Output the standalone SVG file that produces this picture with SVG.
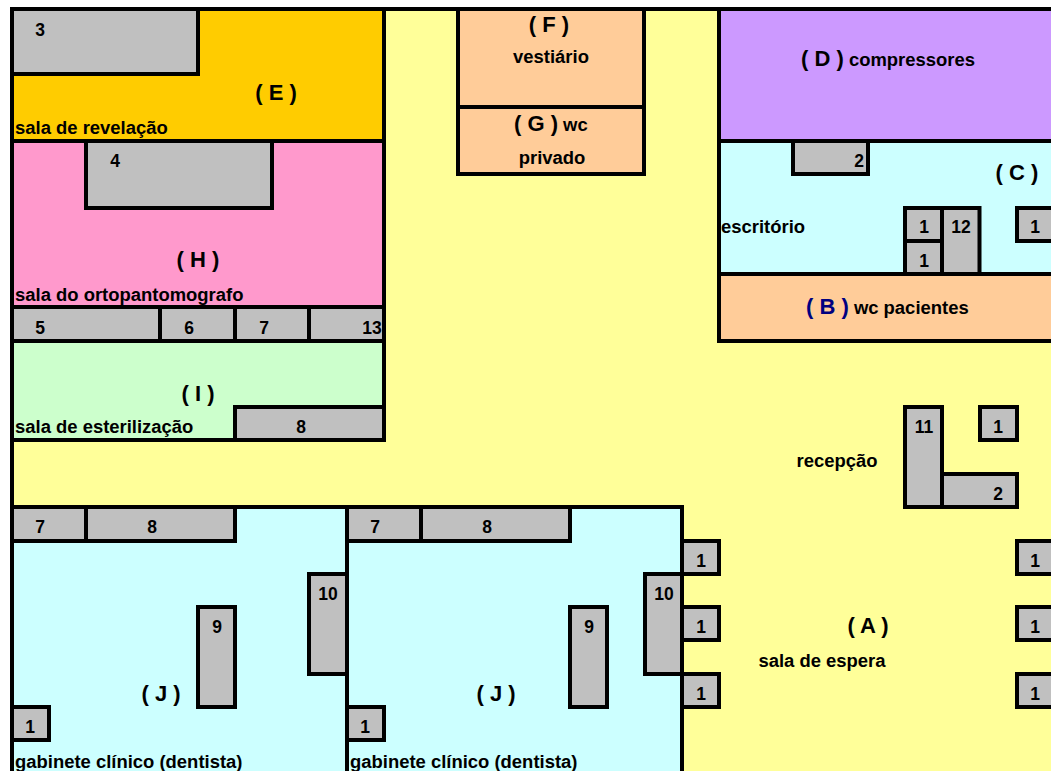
<svg xmlns="http://www.w3.org/2000/svg" width="1051" height="771" viewBox="0 0 1051 771">
<style>
rect{stroke:#000;stroke-width:4}
.y{fill:#FFFF99}.e{fill:#FFCC00}.h{fill:#FF99CC}.i{fill:#CCFFCC}.c{fill:#CCFFFF}.f{fill:#FFCC99}.d{fill:#CC99FF}.g{fill:#C0C0C0}
text{font-family:"Liberation Sans",Arial,sans-serif;font-weight:700;fill:#000;font-size:18.45px}
.n{text-anchor:middle}
.b{font-size:22px}
.m{font-size:17.5px}
</style>
<rect width="1051" height="771" fill="#fff" style="stroke:none"/>
<g id="floor"><rect class="y" x="12" y="9" width="1045" height="770"/></g>
<g id="room-E"><rect class="e" x="12" y="9" width="372" height="132"/><text x="15" y="134">sala de revelação</text><text class="b n" x="276" y="100">( E )</text></g>
<g id="item-3"><rect class="g" x="12" y="9" width="186" height="65"/><text class="m n" x="40" y="36">3</text></g>
<g id="room-H"><rect class="h" x="12" y="141" width="372" height="166"/><text x="15" y="301">sala do ortopantomografo</text><text class="b n" x="198" y="267">( H )</text></g>
<g id="item-4"><rect class="g" x="86" y="141" width="186" height="67"/><text class="m n" x="115" y="167">4</text></g>
<g id="item-5"><rect class="g" x="12" y="307" width="148" height="34"/><text class="m n" x="40" y="334">5</text></g>
<g id="item-6"><rect class="g" x="160" y="307" width="75" height="34"/><text class="m n" x="189" y="334">6</text></g>
<g id="item-7a"><rect class="g" x="235" y="307" width="74" height="34"/><text class="m n" x="264" y="334">7</text></g>
<g id="item-13"><rect class="g" x="309" y="307" width="75" height="34"/><text class="m n" x="372" y="334">13</text></g>
<g id="room-I"><rect class="i" x="12" y="341" width="372" height="99"/><text x="15" y="433">sala de esterilização</text><text class="b n" x="198" y="401">( I )</text></g>
<g id="item-8a"><rect class="g" x="235" y="407" width="149" height="33"/><text class="m n" x="301" y="433">8</text></g>
<g id="room-F"><rect class="f" x="458" y="9" width="186" height="98"/><text class="b n" x="549" y="32">( F )</text><text class="n" x="551" y="63">vestiário</text></g>
<g id="room-G"><rect class="f" x="458" y="107" width="186" height="67"/><text x="514" y="131"><tspan class="b">( G )</tspan> wc</text><text class="n" x="552" y="164">privado</text></g>
<g id="room-D"><rect class="d" x="719" y="9" width="340" height="132"/><text x="801" y="66"><tspan class="b">( D )</tspan> compressores</text></g>
<g id="room-C"><rect class="c" x="719" y="141" width="340" height="133"/><text x="721" y="233">escritório</text><text class="b n" x="1017" y="180">( C )</text></g>
<g id="item-2a"><rect class="g" x="793" y="141" width="75" height="33"/><text class="m n" x="859" y="167">2</text></g>
<g id="item-1a"><rect class="g" x="905" y="208" width="37" height="33"/><text class="m n" x="924" y="233">1</text></g>
<g id="item-1b"><rect class="g" x="905" y="241" width="37" height="33"/><text class="m n" x="924" y="267">1</text></g>
<g id="item-12"><rect class="g" x="942" y="208" width="37.500" height="66"/><text class="m n" x="961" y="233">12</text></g>
<g id="item-1c"><rect class="g" x="1017" y="208" width="50" height="33"/><text class="m n" x="1035" y="233">1</text></g>
<g id="room-B"><rect class="f" x="719" y="274" width="340" height="67"/><text x="806" y="314"><tspan class="b" style="fill:#000080">( B )</tspan> wc pacientes</text></g>
<g id="item-11"><rect class="g" x="905" y="407" width="37" height="100"/><text class="m n" x="924" y="433">11</text></g>
<g id="item-1d"><rect class="g" x="980" y="407" width="37" height="33"/><text class="m n" x="998" y="433">1</text></g>
<g id="item-2b"><rect class="g" x="942" y="474" width="75" height="33"/><text class="m n" x="998" y="500">2</text></g>
<g id="reception"><text class="n" x="837" y="467">recepção</text></g>
<g id="room-J1"><rect class="c" x="12" y="507" width="335" height="280"/><text x="15" y="768">gabinete clínico (dentista)</text><text class="b n" x="161" y="701">( J )</text></g>
<g id="item-7b"><rect class="g" x="12" y="507" width="74" height="34"/><text class="m n" x="40" y="533">7</text></g>
<g id="item-8b"><rect class="g" x="86" y="507" width="149" height="34"/><text class="m n" x="152" y="533">8</text></g>
<g id="item-10a"><rect class="g" x="309" y="574" width="38" height="100"/><text class="m n" x="328" y="600">10</text></g>
<g id="item-9a"><rect class="g" x="198" y="607" width="37" height="100"/><text class="m n" x="217" y="633">9</text></g>
<g id="item-1e"><rect class="g" x="12" y="707" width="37" height="33"/><text class="m n" x="30" y="733">1</text></g>
<g id="room-J2"><rect class="c" x="347" y="507" width="335" height="280"/><text x="350" y="768">gabinete clínico (dentista)</text><text class="b n" x="496" y="701">( J )</text></g>
<g id="item-7c"><rect class="g" x="347" y="507" width="74" height="34"/><text class="m n" x="375" y="533">7</text></g>
<g id="item-8c"><rect class="g" x="421" y="507" width="149" height="34"/><text class="m n" x="487" y="533">8</text></g>
<g id="item-10b"><rect class="g" x="645" y="574" width="37" height="100"/><text class="m n" x="664" y="600">10</text></g>
<g id="item-9b"><rect class="g" x="570" y="607" width="37" height="100"/><text class="m n" x="589" y="633">9</text></g>
<g id="item-1f"><rect class="g" x="347" y="707" width="37" height="33"/><text class="m n" x="365" y="733">1</text></g>
<g id="item-1g"><rect class="g" x="682" y="541" width="37" height="33"/><text class="m n" x="701" y="567">1</text></g>
<g id="item-1h"><rect class="g" x="682" y="607" width="37" height="33"/><text class="m n" x="701" y="633">1</text></g>
<g id="item-1i"><rect class="g" x="682" y="674" width="37" height="33"/><text class="m n" x="701" y="700">1</text></g>
<g id="item-1j"><rect class="g" x="1017" y="541" width="50" height="33"/><text class="m n" x="1035" y="567">1</text></g>
<g id="item-1k"><rect class="g" x="1017" y="607" width="50" height="33"/><text class="m n" x="1035" y="633">1</text></g>
<g id="item-1l"><rect class="g" x="1017" y="674" width="50" height="33"/><text class="m n" x="1035" y="700">1</text></g>
<g id="room-A"><text class="b n" x="868" y="633">( A )</text><text class="n" x="822" y="667">sala de espera</text></g>
<g id="connectors"/>
</svg>
